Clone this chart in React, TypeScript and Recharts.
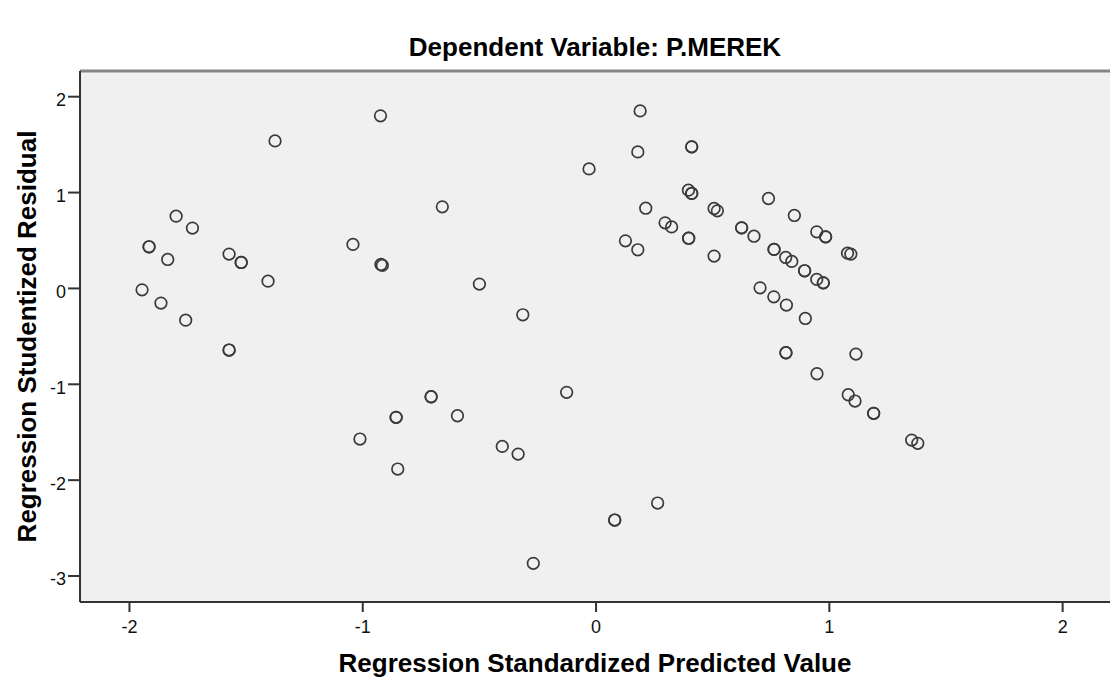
import React from 'react';
import {
  ScatterChart,
  Scatter,
  XAxis,
  YAxis,
  CartesianGrid,
  ReferenceLine,
  Label,
} from 'recharts';

// values
const predicted = [
  -1.946, -1.865, -1.836, -1.916, -1.916, -1.8, -1.73, -1.759, -1.573, -1.521,
  -1.521, -1.573, -1.573, -1.406, -1.376, -1.042, -0.922, -0.916, -0.924, -0.659,
  -0.5, -0.314, -0.707, -0.707, -0.857, -0.857, -0.594, -1.012, -0.85, -0.402,
  -0.334, -0.126, -0.269, 0.08, 0.08, 0.264,
  0.189, 0.179, -0.03, 0.41, 0.41, 0.396, 0.41, 0.41, 0.213, 0.739,
  0.506, 0.52, 0.85, 0.296, 0.324, 0.126, 0.179, 0.397, 0.397, 0.624,
  0.624, 0.677, 0.506, 0.946, 0.984, 0.984, 0.763, 0.763, 0.813, 0.839,
  0.894, 0.894, 0.946, 0.974, 0.974, 1.078, 1.092, 0.703, 0.762, 0.816,
  0.897, 0.814, 0.814, 1.114, 0.947, 1.081, 1.11, 1.19, 1.19, 1.353, 1.379,
];

const residual = [
  -0.015, -0.153, 0.302, 0.434, 0.434, 0.754, 0.629, -0.331, 0.358, 0.271,
  0.271, -0.643, -0.643, 0.076, 1.539, 0.459, 0.25, 0.24, 1.8, 0.851,
  0.045, -0.275, -1.13, -1.13, -1.345, -1.345, -1.328, -1.571, -1.884, -1.648,
  -1.728, -1.084, -2.868, -2.416, -2.416, -2.239,
  1.852, 1.424, 1.247, 1.477, 1.477, 1.025, 0.991, 0.991, 0.837, 0.938,
  0.834, 0.809, 0.761, 0.684, 0.642, 0.496, 0.403, 0.524, 0.524, 0.632,
  0.632, 0.545, 0.337, 0.59, 0.538, 0.538, 0.407, 0.407, 0.323, 0.282,
  0.184, 0.184, 0.094, 0.058, 0.058, 0.368, 0.358, 0.006, -0.088, -0.174,
  -0.313, -0.671, -0.671, -0.685, -0.89, -1.109, -1.175, -1.303, -1.303, -1.582, -1.616,
];

const xTicks = [-2, -1, 0, 1, 2];
const yTicks = [-3, -2, -1, 0, 1, 2];

const chartTitle = 'Dependent Variable: P.MEREK';
const xTitle = 'Regression Standardized Predicted Value';
const yTitle = 'Regression Studentized Residual';

const points = predicted.map((x, i) => ({ x, y: residual[i] }));

const font = "'Liberation Sans', Arial, sans-serif";

const Ring = (props: any) => (
  <circle
    cx={props.cx}
    cy={props.cy}
    r={5.8}
    fill="none"
    stroke="#3a3a3a"
    strokeWidth={1.7}
  />
);

const XTitle = (props: any) => {
  const { x, y, width } = props.viewBox;
  return (
    <text
      x={x + width / 2}
      y={y + 70}
      textAnchor="middle"
      fontFamily={font}
      fontWeight="bold"
      fontSize={26}
      fill="#000"
    >
      {xTitle}
    </text>
  );
};

const YTitle = (props: any) => {
  const { y, height } = props.viewBox;
  const cx = 36;
  const cy = y + height / 2;
  return (
    <text
      x={cx}
      y={cy}
      transform={`rotate(-90, ${cx}, ${cy})`}
      textAnchor="middle"
      fontFamily={font}
      fontWeight="bold"
      fontSize={26}
      fill="#000"
    >
      {yTitle}
    </text>
  );
};

export default function App() {
  return (
    <div
      style={{
        position: 'absolute',
        left: 0,
        top: 0,
        width: 1110,
        height: 690,
        background: '#fff',
      }}
    >
      <div
        style={{
          position: 'absolute',
          left: 80,
          width: 1030,
          top: 32,
          textAlign: 'center',
          fontFamily: font,
          fontWeight: 'bold',
          fontSize: 26,
          lineHeight: '30px',
          color: '#000',
        }}
      >
        {chartTitle}
      </div>
      <ScatterChart
        width={1110}
        height={690}
        margin={{ top: 71, right: 0, bottom: 0, left: 0 }}
      >
        <CartesianGrid horizontal={false} vertical={false} fill="#f0f0f0" />
        <XAxis
          type="number"
          dataKey="x"
          domain={[-2.212, 2.203]}
          ticks={xTicks}
          allowDataOverflow
          height={88}
          axisLine={{ stroke: '#333', strokeWidth: 2 }}
          tickLine={{ stroke: '#333', strokeWidth: 2 }}
          tickSize={10}
          tickMargin={8}
          tick={{ fontFamily: font, fontSize: 18, fill: '#111' }}
        >
          <Label content={<XTitle />} />
        </XAxis>
        <YAxis
          type="number"
          dataKey="y"
          domain={[-3.271, 2.268]}
          ticks={yTicks}
          allowDataOverflow
          width={80}
          axisLine={{ stroke: '#333', strokeWidth: 2 }}
          tickLine={{ stroke: '#333', strokeWidth: 2 }}
          tickSize={12}
          tickMargin={2}
          tick={{ fontFamily: font, fontSize: 18, fill: '#111', dy: 3 }}
        >
          <Label content={<YTitle />} />
        </YAxis>
        <ReferenceLine y={2.268} stroke="#858585" strokeWidth={3} />
        <Scatter data={points} shape={Ring} isAnimationActive={false} />
      </ScatterChart>
    </div>
  );
}
